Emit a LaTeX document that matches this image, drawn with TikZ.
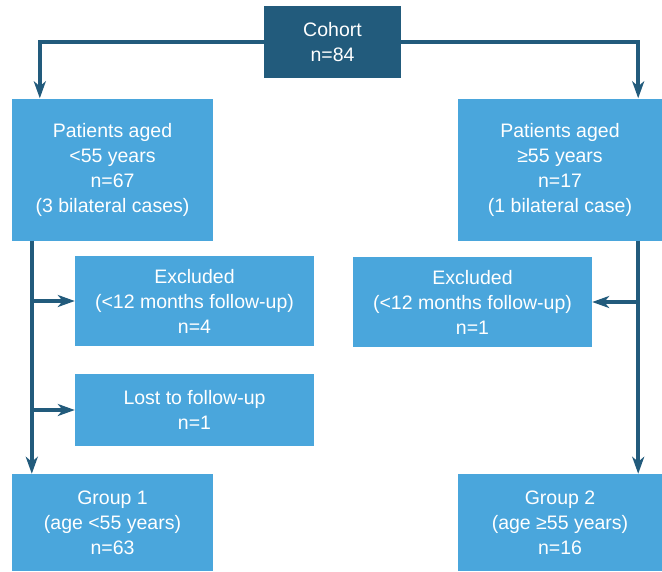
\documentclass[tikz,border=0pt]{standalone}
\usepackage{fontspec}
\setmainfont{Liberation Sans}
\usetikzlibrary{arrows.meta}

\definecolor{boxblue}{HTML}{4AA6DC}
\definecolor{darkblue}{HTML}{225B7C}

\begin{document}
\begin{tikzpicture}[x=1pt,y=-1pt,
    flowbox/.style={fill=boxblue,draw=none,align=center,text=white,inner sep=0pt,
      font=\fontsize{19.5}{25}\selectfont},
    headbox/.style={flowbox,fill=darkblue},
    arr/.style={draw=darkblue,line width=3.6pt,-{Stealth[length=17pt,width=12pt,inset=5pt]}}]
  \useasboundingbox (0,0) rectangle (662,571);
  % boxes
  \node[headbox,minimum width=137pt,minimum height=72pt] (cohort) at (332.5,42) {Cohort\\n=84};
  \node[flowbox,minimum width=201pt,minimum height=142pt] (young) at (112.5,169.5)
    {Patients aged\\<55 years\\n=67\\(3 bilateral cases)};
  \node[flowbox,minimum width=204pt,minimum height=142pt] (old) at (560,169.5)
    {Patients aged\\≥55 years\\n=17\\(1 bilateral case)};
  \node[flowbox,minimum width=239pt,minimum height=90pt] (exclyoung) at (194.5,301)
    {Excluded\\(<12 months follow-up)\\n=4};
  \node[flowbox,minimum width=239pt,minimum height=72pt] (lost) at (194.5,410)
    {Lost to follow-up\\n=1};
  \node[flowbox,minimum width=239pt,minimum height=90pt] (exclold) at (472.5,302)
    {Excluded\\(<12 months follow-up)\\n=1};
  \node[flowbox,minimum width=201pt,minimum height=97pt] (group1) at (112.5,522.5)
    {Group 1\\(age <55 years)\\n=63};
  \node[flowbox,minimum width=204pt,minimum height=97pt] (group2) at (560,522.5)
    {Group 2\\(age ≥55 years)\\n=16};
  % connectors
  \draw[arr] (cohort.west) -| ([xshift=28pt]young.north west);
  \draw[arr] (cohort.east) -| ([xshift=-24pt]old.north east);
  \coordinate (ltop) at ([xshift=20pt]young.south west);
  \coordinate (rtop) at ([xshift=-24pt]old.south east);
  \draw[arr] (ltop) -- ([xshift=20pt]group1.north west);
  \draw[arr] (rtop) -- ([xshift=-24pt]group2.north east);
  \draw[arr] (ltop |- exclyoung.west) -- (exclyoung.west);
  \draw[arr] (ltop |- lost.west) -- (lost.west);
  \draw[arr] (rtop |- exclold.east) -- (exclold.east);
\end{tikzpicture}
\end{document}
